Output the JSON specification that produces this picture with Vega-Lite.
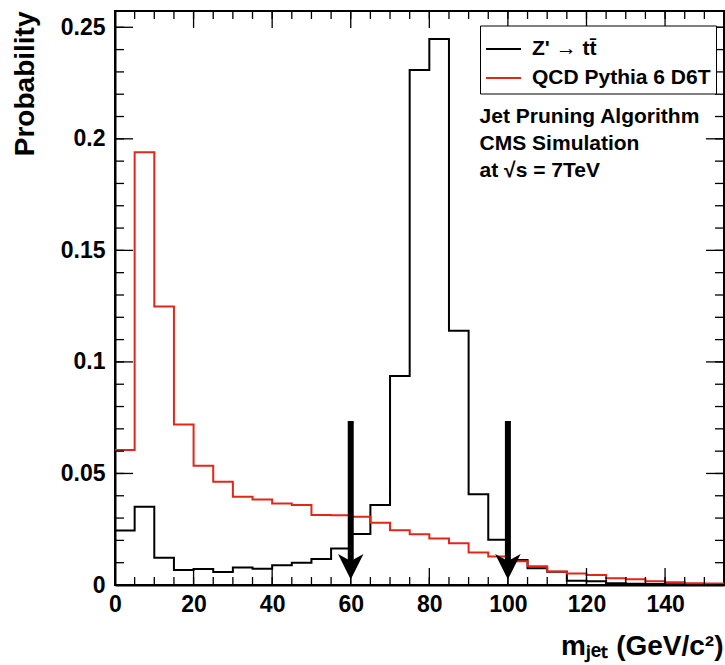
{
  "$schema": "https://vega.github.io/schema/vega-lite/v6.json",
  "width": 609,
  "height": 574,
  "autosize": {"type": "none"},
  "padding": {"left": 115, "top": 11, "right": 1, "bottom": 80},
  "background": "white",
  "config": {
    "font": "Liberation Sans",
    "view": {"stroke": "black", "strokeWidth": 2},
    "axis": {
      "domainColor": "black",
      "domainWidth": 2,
      "grid": false,
      "ticks": false,
      "labelFont": "Liberation Sans",
      "labelFontWeight": "bold",
      "labelFontSize": 23,
      "labelColor": "black",
      "labelFlush": false,
      "labelOverlap": false,
      "labelBound": false,
      "titleFont": "Liberation Sans",
      "titleFontWeight": "bold",
      "titleFontSize": 28,
      "titleColor": "black"
    },
    "legend": {
      "labelFont": "Liberation Sans",
      "labelFontWeight": "bold",
      "labelFontSize": 21,
      "labelColor": "black"
    }
  },
  "datasets": {
    "hist": [
      {"series": "Z' → tt̄", "x0": 0, "x1": 5, "p": 0.0244},
      {"series": "Z' → tt̄", "x0": 5, "x1": 10, "p": 0.0351},
      {"series": "Z' → tt̄", "x0": 10, "x1": 15, "p": 0.0122},
      {"series": "Z' → tt̄", "x0": 15, "x1": 20, "p": 0.0067},
      {"series": "Z' → tt̄", "x0": 20, "x1": 25, "p": 0.0072},
      {"series": "Z' → tt̄", "x0": 25, "x1": 30, "p": 0.0058},
      {"series": "Z' → tt̄", "x0": 30, "x1": 35, "p": 0.0079},
      {"series": "Z' → tt̄", "x0": 35, "x1": 40, "p": 0.0073},
      {"series": "Z' → tt̄", "x0": 40, "x1": 45, "p": 0.0088},
      {"series": "Z' → tt̄", "x0": 45, "x1": 50, "p": 0.0100},
      {"series": "Z' → tt̄", "x0": 50, "x1": 55, "p": 0.0117},
      {"series": "Z' → tt̄", "x0": 55, "x1": 60, "p": 0.0164},
      {"series": "Z' → tt̄", "x0": 60, "x1": 65, "p": 0.0229},
      {"series": "Z' → tt̄", "x0": 65, "x1": 70, "p": 0.0359},
      {"series": "Z' → tt̄", "x0": 70, "x1": 75, "p": 0.0937},
      {"series": "Z' → tt̄", "x0": 75, "x1": 80, "p": 0.2309},
      {"series": "Z' → tt̄", "x0": 80, "x1": 85, "p": 0.2448},
      {"series": "Z' → tt̄", "x0": 85, "x1": 90, "p": 0.1140},
      {"series": "Z' → tt̄", "x0": 90, "x1": 95, "p": 0.0407},
      {"series": "Z' → tt̄", "x0": 95, "x1": 100, "p": 0.0203},
      {"series": "Z' → tt̄", "x0": 100, "x1": 105, "p": 0.0112},
      {"series": "Z' → tt̄", "x0": 105, "x1": 110, "p": 0.0075},
      {"series": "Z' → tt̄", "x0": 110, "x1": 115, "p": 0.0059},
      {"series": "Z' → tt̄", "x0": 115, "x1": 120, "p": 0.0019},
      {"series": "Z' → tt̄", "x0": 120, "x1": 125, "p": 0.0017},
      {"series": "Z' → tt̄", "x0": 125, "x1": 130, "p": 0.0008},
      {"series": "Z' → tt̄", "x0": 130, "x1": 135, "p": 0.0006},
      {"series": "Z' → tt̄", "x0": 135, "x1": 140, "p": 0.0004},
      {"series": "Z' → tt̄", "x0": 140, "x1": 145, "p": 0.0003},
      {"series": "Z' → tt̄", "x0": 145, "x1": 150, "p": 0.0002},
      {"series": "Z' → tt̄", "x0": 150, "x1": 155, "p": 0.0001},
      {"series": "QCD Pythia 6 D6T", "x0": 0, "x1": 5, "p": 0.0605},
      {"series": "QCD Pythia 6 D6T", "x0": 5, "x1": 10, "p": 0.1940},
      {"series": "QCD Pythia 6 D6T", "x0": 10, "x1": 15, "p": 0.1248},
      {"series": "QCD Pythia 6 D6T", "x0": 15, "x1": 20, "p": 0.0719},
      {"series": "QCD Pythia 6 D6T", "x0": 20, "x1": 25, "p": 0.0535},
      {"series": "QCD Pythia 6 D6T", "x0": 25, "x1": 30, "p": 0.0463},
      {"series": "QCD Pythia 6 D6T", "x0": 30, "x1": 35, "p": 0.0396},
      {"series": "QCD Pythia 6 D6T", "x0": 35, "x1": 40, "p": 0.0383},
      {"series": "QCD Pythia 6 D6T", "x0": 40, "x1": 45, "p": 0.0365},
      {"series": "QCD Pythia 6 D6T", "x0": 45, "x1": 50, "p": 0.0359},
      {"series": "QCD Pythia 6 D6T", "x0": 50, "x1": 55, "p": 0.0314},
      {"series": "QCD Pythia 6 D6T", "x0": 55, "x1": 60, "p": 0.0313},
      {"series": "QCD Pythia 6 D6T", "x0": 60, "x1": 65, "p": 0.0306},
      {"series": "QCD Pythia 6 D6T", "x0": 65, "x1": 70, "p": 0.0279},
      {"series": "QCD Pythia 6 D6T", "x0": 70, "x1": 75, "p": 0.0245},
      {"series": "QCD Pythia 6 D6T", "x0": 75, "x1": 80, "p": 0.0227},
      {"series": "QCD Pythia 6 D6T", "x0": 80, "x1": 85, "p": 0.0208},
      {"series": "QCD Pythia 6 D6T", "x0": 85, "x1": 90, "p": 0.0187},
      {"series": "QCD Pythia 6 D6T", "x0": 90, "x1": 95, "p": 0.0146},
      {"series": "QCD Pythia 6 D6T", "x0": 95, "x1": 100, "p": 0.0128},
      {"series": "QCD Pythia 6 D6T", "x0": 100, "x1": 105, "p": 0.0106},
      {"series": "QCD Pythia 6 D6T", "x0": 105, "x1": 110, "p": 0.0084},
      {"series": "QCD Pythia 6 D6T", "x0": 110, "x1": 115, "p": 0.0060},
      {"series": "QCD Pythia 6 D6T", "x0": 115, "x1": 120, "p": 0.0052},
      {"series": "QCD Pythia 6 D6T", "x0": 120, "x1": 125, "p": 0.0045},
      {"series": "QCD Pythia 6 D6T", "x0": 125, "x1": 130, "p": 0.0030},
      {"series": "QCD Pythia 6 D6T", "x0": 130, "x1": 135, "p": 0.0026},
      {"series": "QCD Pythia 6 D6T", "x0": 135, "x1": 140, "p": 0.0017},
      {"series": "QCD Pythia 6 D6T", "x0": 140, "x1": 145, "p": 0.0012},
      {"series": "QCD Pythia 6 D6T", "x0": 145, "x1": 150, "p": 0.0008},
      {"series": "QCD Pythia 6 D6T", "x0": 150, "x1": 155, "p": 0.0007}
    ],
    "cuts": [
      {"cut": 60},
      {"cut": 100}
    ],
    "notes": [
      {"note": "Jet Pruning Algorithm"}
    ],
    "xticks": [
      {"t": 0}, {"t": 5}, {"t": 10}, {"t": 15}, {"t": 20}, {"t": 25}, {"t": 30}, {"t": 35},
      {"t": 40}, {"t": 45}, {"t": 50}, {"t": 55}, {"t": 60}, {"t": 65}, {"t": 70}, {"t": 75},
      {"t": 80}, {"t": 85}, {"t": 90}, {"t": 95}, {"t": 100}, {"t": 105}, {"t": 110}, {"t": 115},
      {"t": 120}, {"t": 125}, {"t": 130}, {"t": 135}, {"t": 140}, {"t": 145}, {"t": 150}
    ],
    "yticks": [
      {"t": 0}, {"t": 0.01}, {"t": 0.02}, {"t": 0.03}, {"t": 0.04}, {"t": 0.05}, {"t": 0.06},
      {"t": 0.07}, {"t": 0.08}, {"t": 0.09}, {"t": 0.1}, {"t": 0.11}, {"t": 0.12}, {"t": 0.13},
      {"t": 0.14}, {"t": 0.15}, {"t": 0.16}, {"t": 0.17}, {"t": 0.18}, {"t": 0.19}, {"t": 0.2},
      {"t": 0.21}, {"t": 0.22}, {"t": 0.23}, {"t": 0.24}, {"t": 0.25}
    ]
  },
  "layer": [
    {
      "data": {"name": "hist"},
      "transform": [{"fold": ["x0", "x1"], "as": ["edge", "m"]}],
      "mark": {"type": "line", "strokeWidth": 2, "clip": true, "interpolate": "linear"},
      "encoding": {
        "x": {
          "field": "m",
          "type": "quantitative",
          "scale": {"domain": [0, 155], "nice": false, "zero": false},
          "axis": {
            "orient": "bottom",
            "values": [0, 20, 40, 60, 80, 100, 120, 140],
            "ticks": false,
            "labelPadding": 8,
            "title": "mⱼₑₜ (GeV/c²)",
            "titleAlign": "right",
            "titleAnchor": "end",
            "titleBaseline": "alphabetic",
            "titleX": 608,
            "titleY": 69
          }
        },
        "y": {
          "field": "p",
          "type": "quantitative",
          "scale": {"domain": [0, 0.2573], "nice": false, "zero": true},
          "axis": {
            "orient": "left",
            "values": [0, 0.05, 0.1, 0.15, 0.2, 0.25],
            "format": ".2~f",
            "ticks": false,
            "labelPadding": 10,
            "title": "Probability",
            "titleAlign": "right",
            "titleAnchor": "end",
            "titleAngle": -90,
            "titleBaseline": "alphabetic",
            "titleX": -82,
            "titleY": 0
          }
        },
        "color": {
          "field": "series",
          "type": "nominal",
          "scale": {"domain": ["Z' → tt̄", "QCD Pythia 6 D6T"], "range": ["#000000", "#e2261a"]},
          "legend": {
            "title": null,
            "orient": "none",
            "legendX": 365,
            "legendY": 14.5,
            "direction": "vertical",
            "padding": 5,
            "strokeColor": "black",
            "fillColor": "white",
            "symbolType": "stroke",
            "symbolSize": 1225,
            "symbolStrokeWidth": 2,
            "labelOffset": 10,
            "rowPadding": -6,
            "labelLimit": 400
          }
        },
        "order": [{"field": "x0", "type": "quantitative"}, {"field": "edge", "type": "nominal"}]
      }
    },
    {
      "data": {"name": "xticks"},
      "mark": {"type": "rule", "strokeWidth": 1.3, "color": "black"},
      "encoding": {
        "x": {"field": "t", "type": "quantitative"},
        "y": {"datum": 0, "type": "quantitative"},
        "y2": {"datum": 0.0036}
      }
    },
    {
      "data": {"name": "xticks"},
      "transform": [{"filter": "datum.t % 20 === 0"}],
      "mark": {"type": "rule", "strokeWidth": 1.3, "color": "black"},
      "encoding": {
        "x": {"field": "t", "type": "quantitative"},
        "y": {"datum": 0, "type": "quantitative"},
        "y2": {"datum": 0.0076}
      }
    },
    {
      "data": {"name": "xticks"},
      "mark": {"type": "rule", "strokeWidth": 1.3, "color": "black"},
      "encoding": {
        "x": {"field": "t", "type": "quantitative"},
        "y": {"datum": 0.2573, "type": "quantitative"},
        "y2": {"datum": 0.2537}
      }
    },
    {
      "data": {"name": "xticks"},
      "transform": [{"filter": "datum.t % 20 === 0"}],
      "mark": {"type": "rule", "strokeWidth": 1.3, "color": "black"},
      "encoding": {
        "x": {"field": "t", "type": "quantitative"},
        "y": {"datum": 0.2573, "type": "quantitative"},
        "y2": {"datum": 0.2497}
      }
    },
    {
      "data": {"name": "yticks"},
      "mark": {"type": "rule", "strokeWidth": 1.3, "color": "black"},
      "encoding": {
        "y": {"field": "t", "type": "quantitative"},
        "x": {"datum": 0, "type": "quantitative"},
        "x2": {"datum": 2.3}
      }
    },
    {
      "data": {"name": "yticks"},
      "transform": [{"filter": "round(datum.t * 100) % 5 === 0"}],
      "mark": {"type": "rule", "strokeWidth": 1.3, "color": "black"},
      "encoding": {
        "y": {"field": "t", "type": "quantitative"},
        "x": {"datum": 0, "type": "quantitative"},
        "x2": {"datum": 4.6}
      }
    },
    {
      "data": {"name": "yticks"},
      "mark": {"type": "rule", "strokeWidth": 1.3, "color": "black"},
      "encoding": {
        "y": {"field": "t", "type": "quantitative"},
        "x": {"datum": 155, "type": "quantitative"},
        "x2": {"datum": 152.7}
      }
    },
    {
      "data": {"name": "yticks"},
      "transform": [{"filter": "round(datum.t * 100) % 5 === 0"}],
      "mark": {"type": "rule", "strokeWidth": 1.3, "color": "black"},
      "encoding": {
        "y": {"field": "t", "type": "quantitative"},
        "x": {"datum": 155, "type": "quantitative"},
        "x2": {"datum": 150.4}
      }
    },
    {
      "data": {"name": "cuts"},
      "mark": {"type": "rule", "strokeWidth": 6, "color": "black", "strokeCap": "butt"},
      "encoding": {
        "x": {"field": "cut", "type": "quantitative"},
        "y": {"datum": 0.0735, "type": "quantitative"},
        "y2": {"datum": 0.01}
      }
    },
    {
      "data": {"name": "cuts"},
      "mark": {"type": "point", "filled": true, "color": "black", "opacity": 1, "strokeWidth": 0, "shape": "M0,1L-1,-1L0,-0.45L1,-1Z", "size": 650},
      "encoding": {
        "x": {"field": "cut", "type": "quantitative"},
        "y": {"datum": 0.0082, "type": "quantitative"}
      }
    },
    {
      "data": {"name": "notes"},
      "mark": {
        "type": "text",
        "text": ["Jet Pruning Algorithm", "CMS Simulation", "at √s = 7TeV"],
        "align": "left",
        "baseline": "alphabetic",
        "font": "Liberation Sans",
        "fontWeight": "bold",
        "fontSize": 21,
        "lineHeight": 26.7,
        "color": "black"
      },
      "encoding": {
        "x": {"datum": 92.8, "type": "quantitative"},
        "y": {"datum": 0.207, "type": "quantitative"}
      }
    }
  ]
}
